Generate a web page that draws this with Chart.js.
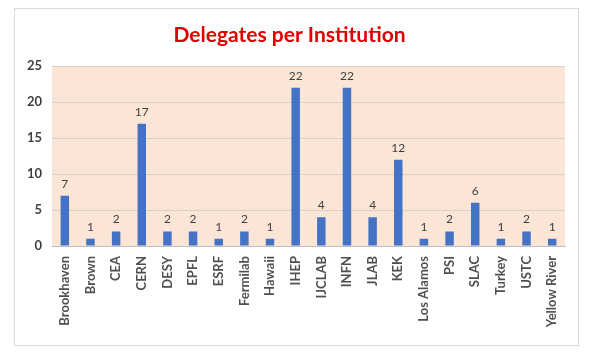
<!DOCTYPE html>
<html><head><meta charset="utf-8">
<script src="https://cdn.jsdelivr.net/npm/chart.js@4.4.1/dist/chart.umd.min.js"></script>
<style>html,body{margin:0;padding:0;background:#fff}#wrap{width:591px;height:358px}</style>
</head><body><div id="wrap"><canvas id="c" width="591" height="358"></canvas></div>
<script>
const categories = ["Brookhaven","Brown","CEA","CERN","DESY","EPFL","ESRF","Fermilab","Hawaii","IHEP","IJCLAB","INFN","JLAB","KEK","Los Alamos","PSI","SLAC","Turkey","USTC","Yellow River"];
const delegates = [7,1,2,17,2,2,1,2,1,22,4,22,4,12,1,2,6,1,2,1];
const yTicks = [0,5,10,15,20,25];

const frame = {
  id:'frame',
  beforeDraw(chart){
    const ctx = chart.ctx, a = chart.chartArea;
    ctx.save();
    ctx.fillStyle = '#fff';
    ctx.fillRect(0,0,chart.width,chart.height);
    ctx.strokeStyle = '#d9d9d9';
    ctx.lineWidth = 1;
    ctx.strokeRect(14.5,8.5,564,337);
    ctx.fillStyle = '#FBE5D6';
    ctx.fillRect(a.left,a.top,a.right-a.left,a.bottom-a.top);
    ctx.restore();
  },
  afterDatasetsDraw(chart){
    const ctx = chart.ctx;
    const meta = chart.getDatasetMeta(0);
    ctx.save();
    ctx.font = '12px Lato, "Open Sans", sans-serif';
    ctx.fillStyle = '#404040';
    ctx.textAlign = 'center';
    ctx.textBaseline = 'bottom';
    meta.data.forEach((bar,i)=>{
      ctx.fillText(String(delegates[i]), bar.x, bar.y - 6);
    });
    ctx.restore();
  }
};

new Chart(document.getElementById('c'), {
  type:'bar',
  data:{labels:categories, datasets:[{data:delegates, backgroundColor:'#4472C4', barPercentage:0.66, categoryPercentage:0.5}]},
  options:{
    responsive:false, animation:false,
    layout:{padding:{left:14,right:26,top:0,bottom:10}},
    plugins:{
      legend:{display:false}, tooltip:{enabled:false},
      title:{display:true, text:'Delegates per Institution', color:'#E00000',
        font:{family:'Lato, "Open Sans", sans-serif', size:21, weight:'bold'}, padding:{top:23,bottom:18}}
    },
    scales:{
      x:{
        grid:{display:false, drawTicks:false},
        border:{display:true, color:'#bfbfbf'},
        ticks:{color:'#505050', font:{family:'Lato, "Open Sans", sans-serif', size:13, weight:'bold'}, maxRotation:90, minRotation:90, autoSkip:false, padding:10},
        afterFit(s){ s.height = 102; }
      },
      y:{
        min:0, max:25,
        afterBuildTicks(s){ s.ticks = yTicks.map(v=>({value:v})); },
        grid:{color:'#d9cfc8', drawTicks:false},
        border:{display:false},
        ticks:{color:'#404040', font:{family:'Lato, "Open Sans", sans-serif', size:13, weight:'bold'}, padding:10},
        afterFit(s){ s.width = 38; }
      }
    }
  },
  plugins:[frame]
});
</script></body></html>
